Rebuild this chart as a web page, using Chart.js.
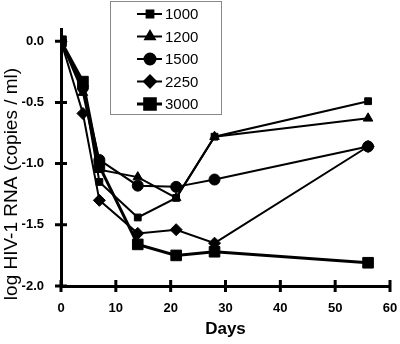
<!DOCTYPE html>
<html>
<head>
<meta charset="utf-8">
<script src="https://cdn.jsdelivr.net/npm/chart.js@4.4.1/dist/chart.umd.min.js"></script>
<style>
  html, body { margin: 0; padding: 0; background: #fff; }
  #wrap { width: 400px; height: 344px; position: relative; }
</style>
</head>
<body>
<div id="wrap"><canvas id="chart" width="400" height="344"></canvas></div>
<script>
// ------------------------
// DATA
// ------------------------

const days = [0, 4, 7, 14, 21, 28, 56];

const dose1000 = [0, -0.35, -1.15, -1.44, -1.28, -0.78, -0.49];
const dose1200 = [0, -0.42, -1.05, -1.11, -1.28, -0.78, -0.63];
const dose1500 = [0, -0.38, -0.97, -1.18, -1.19, -1.13, -0.86];
const dose2250 = [0, -0.59, -1.30, -1.57, -1.54, -1.65, -0.86];
const dose3000 = [0, -0.33, -1.02, -1.66, -1.75, -1.72, -1.81];

const seriesLabels = ["1000", "1200", "1500", "2250", "3000"];
const xTicks = [0, 10, 20, 30, 40, 50, 60];
const yTicks = [0, -0.5, -1.0, -1.5, -2.0];
const yTitle = "log HIV-1 RNA (copies / ml)";

const FONT = "'Liberation Sans', Arial, sans-serif";

// ------------------------
// HELPERS
// ------------------------

function toPoints(values) {
    return values.map((v, i) => ({ x: days[i], y: v }));
}

function makeSet(label, values, style, radius, width) {
    return {
        label,
        data: toPoints(values),
        borderColor: "#000",
        backgroundColor: "#000",
        borderWidth: width,
        pointStyle: style,
        pointRadius: radius,
        pointBorderWidth: 1,
        pointBackgroundColor: "#000",
        pointBorderColor: "#000",
        tension: 0
    };
}

// crossing tick marks on both axes
const crossTicks = {
    id: "crossTicks",
    afterDraw(chart) {
        const ctx = chart.ctx;
        const xs = chart.scales.x, ys = chart.scales.y;
        const area = chart.chartArea;
        ctx.save();
        ctx.strokeStyle = "#000";
        ctx.lineWidth = 3;
        ctx.beginPath();
        yTicks.forEach(v => {
            const py = ys.getPixelForValue(v);
            ctx.moveTo(area.left - 6, py);
            ctx.lineTo(area.left + 6, py);
        });
        xTicks.forEach(v => {
            const px = xs.getPixelForValue(v);
            ctx.moveTo(px, area.bottom - 6);
            ctx.lineTo(px, area.bottom + 6);
        });
        ctx.stroke();
        ctx.restore();
    }
};

// rotated y title, sitting a bit lower than the axis centre like the original
const yTitlePlugin = {
    id: "yTitlePlugin",
    afterDraw(chart) {
        const ctx = chart.ctx;
        ctx.save();
        ctx.translate(12, 184);
        ctx.rotate(-Math.PI / 2);
        ctx.fillStyle = "#000";
        ctx.font = "19px " + FONT;
        ctx.textAlign = "center";
        ctx.textBaseline = "middle";
        ctx.fillText(yTitle, 0, 0);
        ctx.restore();
    }
};

// boxed legend floating over the plot
const boxLegend = {
    id: "boxLegend",
    afterDraw(chart) {
        const ctx = chart.ctx;
        ctx.save();
        ctx.fillStyle = "#fff";
        ctx.fillRect(110, 1, 111, 113);
        ctx.strokeStyle = "#888";
        ctx.lineWidth = 1;
        ctx.strokeRect(110.5, 1.5, 111, 113);

        chart.data.datasets.forEach((ds, i) => {
            const y = 14 + i * 22.5;
            ctx.strokeStyle = "#000";
            ctx.lineWidth = ds.borderWidth;
            ctx.beginPath();
            ctx.moveTo(137, y);
            ctx.lineTo(162, y);
            ctx.stroke();
            ctx.fillStyle = "#000";
            Chart.helpers.drawPoint(ctx, {
                pointStyle: ds.pointStyle,
                radius: ds.pointRadius,
                borderWidth: 1,
                rotation: 0
            }, 150, y);
            ctx.fillStyle = "#000";
            ctx.font = "15px " + FONT;
            ctx.textBaseline = "middle";
            ctx.textAlign = "left";
            ctx.fillText(ds.label, 165, y + 1);
        });
        ctx.restore();
    }
};

// ------------------------
// CHART
// ------------------------

new Chart(document.getElementById("chart"), {
    type: "line",
    data: {
        datasets: [
            makeSet(seriesLabels[0], dose1000, "rect", 4.8, 2),
            makeSet(seriesLabels[1], dose1200, "triangle", 5.5, 2),
            makeSet(seriesLabels[2], dose1500, "circle", 5.5, 2),
            makeSet(seriesLabels[3], dose2250, "rectRot", 6, 2),
            makeSet(seriesLabels[4], dose3000, "rect", 7.5, 3)
        ]
    },
    options: {
        responsive: false,
        animation: false,
        layout: { padding: { top: 29, right: 10, left: 0, bottom: 0 } },
        plugins: {
            legend: { display: false },
            tooltip: { enabled: false }
        },
        scales: {
            x: {
                type: "linear",
                min: 0,
                max: 60,
                afterFit(scale) {
                    scale.height = 58;
                    scale.paddingLeft = 0;
                    scale.paddingRight = 0;
                },
                afterBuildTicks(scale) { scale.ticks = xTicks.map(v => ({ value: v })); },
                grid: { display: false },
                border: { display: true, color: "#000", width: 3 },
                ticks: {
                    color: "#000",
                    padding: 7,
                    font: { family: FONT, size: 13, weight: "bold" }
                },
                title: {
                    display: true,
                    text: "Days",
                    color: "#000",
                    padding: { top: 9 },
                    font: { family: FONT, size: 17, weight: "bold" }
                }
            },
            y: {
                type: "linear",
                min: -2.0,
                max: 0.1,
                afterFit(scale) { scale.width = 61; },
                afterBuildTicks(scale) { scale.ticks = yTicks.map(v => ({ value: v })); },
                grid: { display: false },
                border: { display: true, color: "#000", width: 3 },
                ticks: {
                    color: "#000",
                    padding: 9,
                    font: { family: FONT, size: 13, weight: "bold" },
                    callback: v => v.toFixed(1)
                },
                title: { display: false }
            }
        }
    },
    plugins: [crossTicks, yTitlePlugin, boxLegend]
});
</script>
</body>
</html>
